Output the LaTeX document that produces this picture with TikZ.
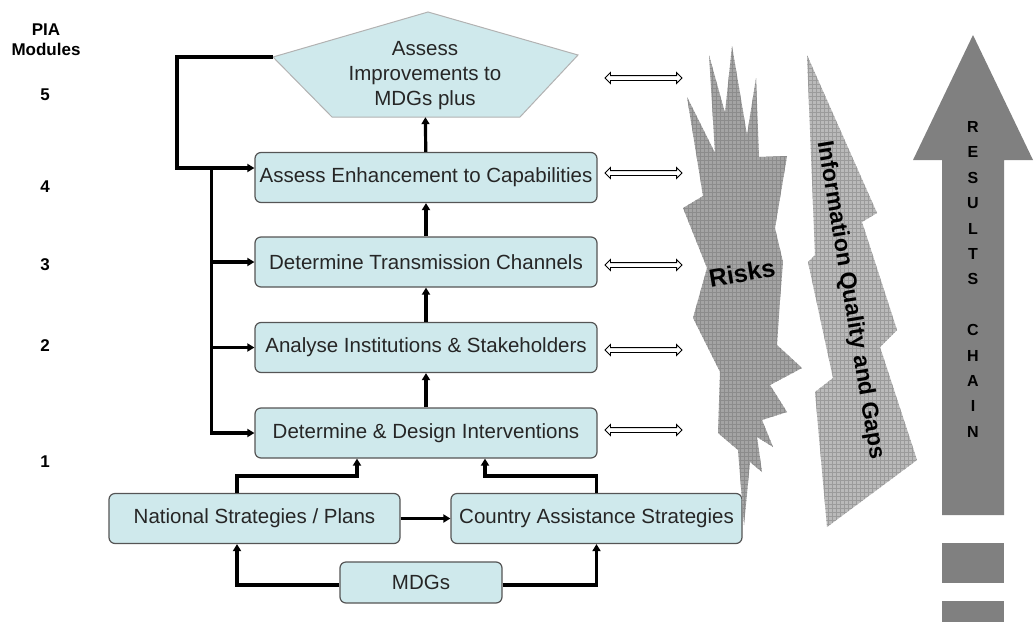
\documentclass[tikz,border=0pt]{standalone}
\usepackage{fontspec}
\setmainfont{Liberation Sans}
\usetikzlibrary{arrows.meta,shapes.arrows}

\definecolor{boxfill}{RGB}{207,233,236}
\definecolor{boxline}{RGB}{85,85,85}
\definecolor{riskfill}{RGB}{164,164,164}
\definecolor{riskgrid}{RGB}{140,140,140}
\definecolor{infofill}{RGB}{186,186,186}
\definecolor{infogrid}{RGB}{155,155,155}
\definecolor{chainfill}{RGB}{128,128,128}

\tikzset{
    module/.style={draw=boxline, fill=boxfill, rounded corners=6pt, line width=1.2pt,
        minimum width=342pt, minimum height=50pt, inner sep=0pt,
        font=\fontsize{20.5}{25}\selectfont, text=black!85},
    flow/.style={line width=3.2pt, -{Triangle[length=7pt,width=8pt]}},
    link/.style={double arrow, draw, fill=white, line width=0.9pt, minimum height=77pt,
        inner sep=2pt, double arrow head extend=3pt, double arrow head indent=0pt},
    numlab/.style={font=\bfseries\fontsize{17}{20}\selectfont},
    chartxt/.style={font=\bfseries\fontsize{16}{18}\selectfont},
    hatch/.style 2 args={fill=#1, path picture={
        \draw[#2, line width=0.3pt, step=4pt] (path picture bounding box.south west)
            grid (path picture bounding box.north east);}},
}

\begin{document}
\begin{tikzpicture}[x=1pt, y=-1pt]
    \useasboundingbox (0,0) rectangle (1034,622);

    % PIA modules column
    \node[numlab, align=center] (pia) at (46,40) {PIA\\Modules};
    \foreach \n/\y in {5/95, 4/187, 3/265, 2/346, 1/462}
        \node[numlab] (m\n) at (45,\y) {\n};

    % top pentagon
    \coordinate (pl) at (273,57);
    \filldraw[fill=boxfill, draw=gray!60, line width=1pt]
        (pl) -- (428,12) -- (578,55) -- (520,117) -- (332,117) -- cycle;
    \node[align=center, minimum height=82pt, inner sep=0pt, text=black!85,
        font=\fontsize{20.5}{25}\selectfont] (p5) at (425,76) {Assess\\Improvements to\\MDGs plus};

    % modules
    \node[module] (b4) at (426,177.5) {Assess Enhancement to Capabilities};
    \node[module] (b3) at (426,262) {Determine Transmission Channels};
    \node[module] (b2) at (426,347.5) {Analyse Institutions \& Stakeholders};
    \node[module] (b1) at (426,433) {Determine \& Design Interventions};
    \node[module, minimum width=291pt] (nat) at (254.5,518.5) {National Strategies / Plans};
    \node[module, minimum width=291pt] (cas) at (596.5,518.5) {Country Assistance Strategies};
    \node[module, minimum width=162pt, minimum height=41pt] (mdg) at (421,582.5) {MDGs};

    \draw[flow] (b1) -- (b2);
    \draw[flow] (b2) -- (b3);
    \draw[flow] (b3) -- (b4);
    \draw[flow] (b4) -- (p5);

    % feedback from the top
    \draw[flow] (pl) -- ++(-96,0) |- ([yshift=9.5pt]b4.west);
    \coordinate (jn) at ([xshift=-43pt, yshift=9.5pt]b4.west);
    \draw[flow] (jn) |- (b1);
    \foreach \m in {b2,b3}
        \draw[flow] (jn |- \m.west) -- (\m.west);

    % strategies
    \draw[flow] ([xshift=-17.5pt]nat.north) -- ++(0,-17) -| ([xshift=-69pt]b1.south);
    \draw[flow] (cas.north) -- ++(0,-17) -| ([xshift=59pt]b1.south);
    \draw[flow] (nat) -- (cas);
    \draw[flow] ([yshift=-2.5pt]mdg.west) -| ([xshift=-17.5pt]nat.south);
    \draw[flow] ([yshift=-2.5pt]mdg.east) -| (cas.south);

    % two-way links
    \foreach \y [count=\i] in {78, 173, 265, 350, 430}
        \node[link] (lk\i) at (643.5,\y) {};

    % risks
    \path[hatch={riskfill}{riskgrid}] (744,525) -- (738,450) -- (718,433) -- (720,372)
        -- (693,318) -- (707,268) -- (683,208) -- (703,196) -- (687,97) -- (715,153)
        -- (709,55) -- (725,113) -- (732,46) -- (747,135) -- (756,78) -- (759,157)
        -- (787,156) -- (775,228) -- (783,262) -- (780,300) -- (777,345) -- (802,368)
        -- (770,385) -- (787,412) -- (762,420) -- (773,447) -- (757,437) -- (762,472)
        -- (750,462) -- cycle;
    \node[font=\bfseries\fontsize{25}{30}\selectfont, rotate=9.5] (rk) at (742,273) {Risks};

    % information quality
    \path[hatch={infofill}{infogrid}] (807,55) -- (877,213) -- (862,222) -- (897,330)
        -- (880,347) -- (917,460) -- (827,527) -- (815,392) -- (833,378) -- (808,262)
        -- (815,255) -- cycle;
    \node[font=\bfseries\fontsize{23}{28}\selectfont, rotate=-80.5] (iq) at (850,300)
        {Information Quality and Gaps};

    % results chain
    \fill[chainfill] (973,35) -- (1033,160) -- (1004,160) -- (1004,515) -- (942,515)
        -- (942,160) -- (913,160) -- cycle;
    \fill[chainfill] (942,543) rectangle (1004,583);
    \fill[chainfill] (942,601) rectangle (1004,622);
    \foreach \c [count=\i] in {R,E,S,U,L,T,S,{},C,H,A,I,N}
        \node[chartxt] (rc\i) at (973,{101.6+25.4*\i}) {\c};
\end{tikzpicture}
\end{document}
